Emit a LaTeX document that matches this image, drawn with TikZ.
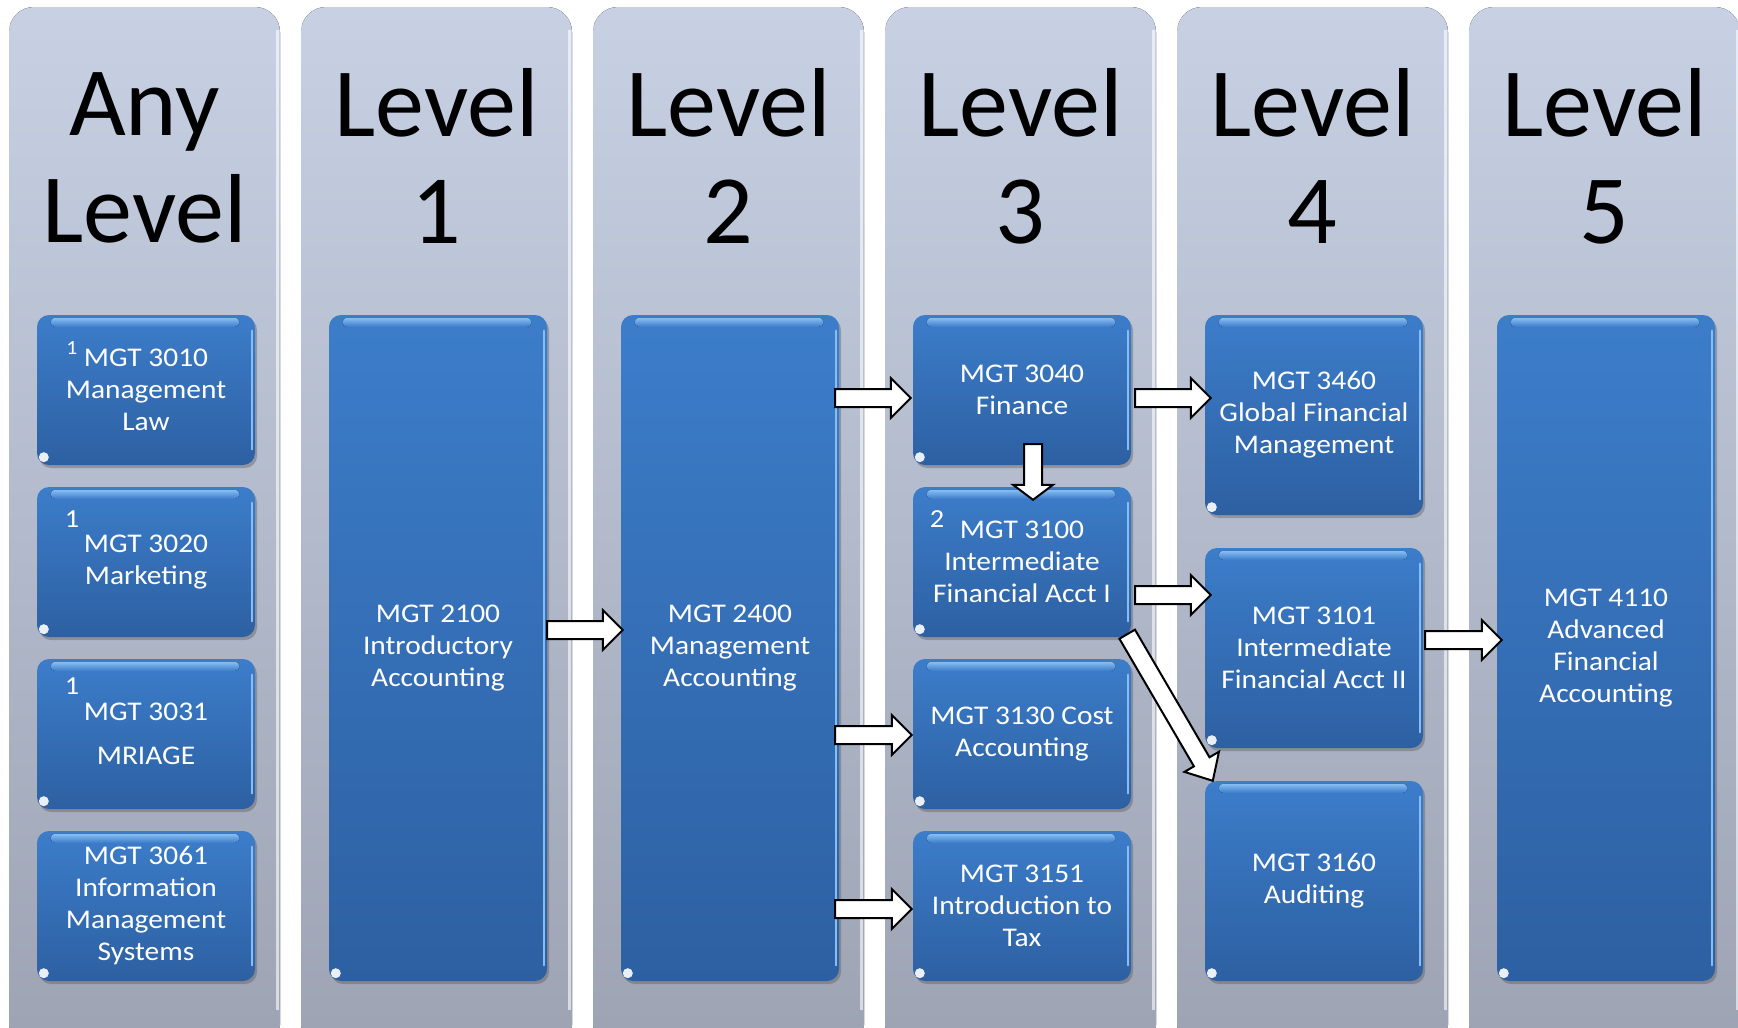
\documentclass[tikz,border=0pt]{standalone}
\usepackage{fontspec}
\setmainfont{Carlito}
\newfontfamily\widefam[FakeStretch=1.09]{Carlito}
\usetikzlibrary{calc,shadows}
\definecolor{coltop}{RGB}{199,209,227}
\definecolor{colbot}{RGB}{157,163,179}
\definecolor{boxtop}{RGB}{60,125,202}
\definecolor{boxbot}{RGB}{45,96,162}
\definecolor{boxhl}{RGB}{135,190,242}
\newcommand\titlefont{\fontsize{98}{107}\selectfont}
\newcommand\boxfont{\widefam\fontsize{27}{32}\selectfont}
\newcommand\notefont{\widefam\fontsize{26}{32}\selectfont}
\newcommand\supfont{\widefam\fontsize{20}{24}\selectfont}
\def\baW{9pt}\def\baH{20pt}\def\baL{20pt}
\tikzset{
  column/.style={top color=coltop, bottom color=colbot, rounded corners=25pt},
  coltitle/.style={font=\titlefont, align=center, text=black, inner sep=0pt},
  cbox/.style={rounded corners=12pt, top color=boxtop, bottom color=boxbot,
    text=white, align=center, font=\boxfont, inner sep=0pt,
    minimum width=218pt,
    drop shadow={shadow xshift=2pt, shadow yshift=-3pt, opacity=0.35, fill=black!70}},
  smallbox/.style={cbox, minimum height=150pt},
  midbox/.style={cbox, minimum height=200pt},
  tallbox/.style={cbox, minimum height=666pt},
  note/.style={text=white, font=\notefont, inner sep=0pt},
  headlen/.code={\def\baL{#1}},
  barrow/.style={draw=black, fill=white, line width=2pt, line join=miter,
    to path={($(\tikztostart)!\baW!90:(\tikztotarget)$)
      -- ($(\tikztotarget)!\baL!(\tikztostart)!\baW!-90:(\tikztostart)$)
      -- ($(\tikztotarget)!\baL!(\tikztostart)!\baH!-90:(\tikztostart)$)
      -- (\tikztotarget)
      -- ($(\tikztotarget)!\baL!(\tikztostart)!\baH!90:(\tikztostart)$)
      -- ($(\tikztotarget)!\baL!(\tikztostart)!\baW!90:(\tikztostart)$)
      -- ($(\tikztostart)!\baW!-90:(\tikztotarget)$)
      -- cycle}}
}
\begin{document}
\begin{tikzpicture}[x=1pt,y=-1pt]
\useasboundingbox (0,0) rectangle (1738,1028);
\fill[white] (0,0) rectangle (1738,1028);
% columns
\foreach \i in {0,...,5}{
  \pgfmathsetmacro\l{9+292*\i}
  \pgfmathsetmacro\r{\l+271}
  \fill[column] (\l,7) rectangle (\r,1050);
  \draw[white, opacity=0.6, line width=3pt] (\r-3,30) -- (\r-3,1010);
}
% titles
\node[coltitle] (t0) at (144.5,158) {Any\\Level};
\node[coltitle] (t1) at (436.5,156) {Level\\1};
\node[coltitle] (t2) at (728.5,156) {Level\\2};
\node[coltitle] (t3) at (1020.5,156) {Level\\3};
\node[coltitle] (t4) at (1312.5,156) {Level\\4};
\node[coltitle] (t5) at (1604.5,156) {Level\\5};
% boxes column any level
\node[smallbox] (a1) at (146,390) {MGT 3010\\Management\\Law};
\node[smallbox] (a2) at (146,562) {MGT 3020\\Marketing};
\node[smallbox] (a3) at (146,734) {MGT 3031\\[12pt]MRIAGE};
\node[smallbox] (a4) at (146,906) {MGT 3061\\Information\\Management\\Systems};
% level 1, 2
\node[tallbox] (b1) at (438,648) {MGT 2100\\Introductory\\Accounting};
\node[tallbox] (c1) at (730,648) {MGT 2400\\Management\\Accounting};
% level 3
\node[smallbox] (d1) at (1022,390) {MGT 3040\\Finance};
\node[smallbox] (d2) at (1022,562) {MGT 3100\\Intermediate\\Financial Acct I};
\node[smallbox] (d3) at (1022,734) {MGT 3130 Cost\\Accounting};
\node[smallbox] (d4) at (1022,906) {MGT 3151\\Introduction to\\Tax};
% level 4
\node[midbox] (e1) at (1314,415) {MGT 3460\\Global Financial\\Management};
\node[midbox] (e2) at (1314,648) {MGT 3101\\Intermediate\\Financial Acct II};
\node[midbox] (e3) at (1314,881) {MGT 3160\\Auditing};
% level 5
\node[tallbox] (f1) at (1606,648) {MGT 4110\\Advanced\\Financial\\Accounting};
% box highlights
\foreach \n in {a1,a2,a3,a4,b1,c1,d1,d2,d3,d4,e1,e2,e3,f1}{
  \fill[top color=boxhl, bottom color=boxtop, rounded corners=4pt]
    ($(\n.north west)+(14,3)$) rectangle ($(\n.north east)+(-16,12)$);
  \draw[boxhl, line width=2.5pt, line cap=round] ($(\n.north east)+(-3,16)$) -- ($(\n.south east)+(-3,-16)$);
  \fill[white, opacity=0.9] ($(\n.south west)+(7,-8)$) circle (5pt);
}
% footnote numbers
\node[text=white, font=\supfont, inner sep=0pt] (n1) at (72,348) {1};
\node[note] (n2) at (72,519) {1};
\node[note] (n3) at (72,686) {1};
\node[note] (n4) at (937,519) {2};
% arrows
\coordinate (s1) at ($(b1.east)+(0,-18)$);
\coordinate (e1a) at ($(c1.west |- s1)+(2,0)$);
\draw[barrow] (s1) to (e1a);
\coordinate (s2) at ($(c1.east |- d1)+(-4,8)$);
\coordinate (e2a) at ($(d1.west)+(-2,8)$);
\draw[barrow] (s2) to (e2a);
\coordinate (s3) at ($(c1.east |- d3)+(-4,1)$);
\coordinate (e3a) at ($(d3.west)+(-1,1)$);
\draw[barrow] (s3) to (e3a);
\coordinate (s4) at ($(c1.east |- d4)+(-4,3)$);
\coordinate (e4a) at ($(d4.west)+(-1,3)$);
\draw[barrow] (s4) to (e4a);
\coordinate (s5) at ($(d1.east)+(4,8)$);
\coordinate (e5a) at ($(e1.west |- s5)+(6,0)$);
\draw[barrow] (s5) to (e5a);
\coordinate (s6) at ($(d2.east)+(4,33)$);
\coordinate (e6a) at ($(e2.west |- s6)+(6,0)$);
\draw[barrow] (s6) to (e6a);
\coordinate (s7) at ($(d1.center)+(11,54)$);
\coordinate (e7a) at ($(d2.north)+(11,13)$);
\draw[barrow, headlen=15pt] (s7) to (e7a);
\coordinate (s8) at ($(e2.east)+(2,-8)$);
\coordinate (e8a) at ($(f1.west |- s8)+(5,0)$);
\draw[barrow] (s8) to (e8a);
\coordinate (s9) at ($(d2.south east)+(-4,-3)$);
\coordinate (e9a) at ($(e3.north west)+(8,0)$);
\draw[barrow, headlen=22pt] (s9) to (e9a);
\end{tikzpicture}
\end{document}
